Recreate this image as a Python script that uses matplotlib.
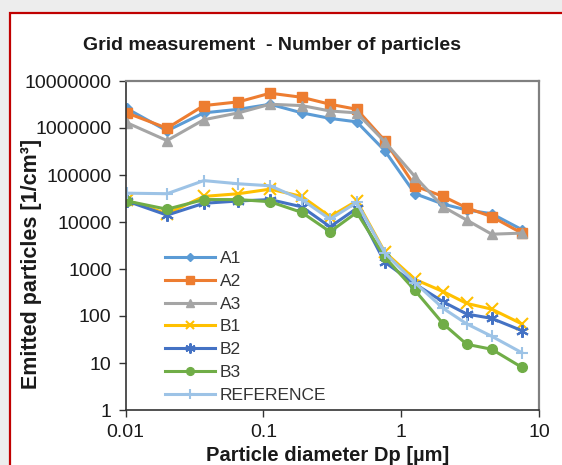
import matplotlib
matplotlib.use("Agg")
import matplotlib.pyplot as plt
from matplotlib.patches import Rectangle
import matplotlib.ticker as mticker

plt.rcParams['font.family'] = ['Liberation Sans', 'DejaVu Sans']

diameters = [0.0102, 0.02, 0.037, 0.066, 0.112, 0.19, 0.305, 0.476, 0.76, 1.26, 2.02, 2.99, 4.54, 7.5]

A1 = [2.6e6, 8.7e5, 2.1e6, 2.5e6, 3.2e6, 2.1e6, 1.6e6, 1.35e6, 3.3e5, 4.0e4, 2.4e4, 1.8e4, 1.5e4, 6.9e3]
A2 = [2.1e6, 9.9e5, 3.0e6, 3.6e6, 5.5e6, 4.5e6, 3.2e6, 2.5e6, 5.4e5, 5.8e4, 3.5e4, 2.0e4, 1.3e4, 5.8e3]
A3 = [1.3e6, 5.4e5, 1.5e6, 2.1e6, 3.2e6, 3.0e6, 2.3e6, 2.1e6, 5.1e5, 9.2e4, 2.1e4, 1.1e4, 5.5e3, 5.8e3]
B1 = [2.9e4, 1.5e4, 3.5e4, 4.0e4, 5.0e4, 3.5e4, 1.3e4, 2.8e4, 2.3e3, 600, 330, 185, 140, 68]
B2 = [2.8e4, 1.4e4, 2.5e4, 2.8e4, 3.0e4, 2.1e4, 7.9e3, 1.95e4, 1.4e3, 480, 200, 110, 89, 49]
B3 = [2.8e4, 1.87e4, 3.0e4, 3.0e4, 2.7e4, 1.6e4, 6.2e3, 1.6e4, 1.8e3, 350, 68, 25, 19.6, 8.1]
REFERENCE = [4.1e4, 4.0e4, 7.6e4, 6.5e4, 5.9e4, 3.0e4, 1.15e4, 2.6e4, 2.2e3, 510, 145, 68, 37, 16.6]

series_names = ["A1", "A2", "A3", "B1", "B2", "B3", "REFERENCE"]
series_values = [A1, A2, A3, B1, B2, B3, REFERENCE]
colors = ["#5B9BD5", "#ED7D31", "#A5A5A5", "#FFC000", "#4472C4", "#70AD47", "#9DC3E6"]
markers = ["D", "s", "^", "x", (6, 2, 0), "o", "+"]
msizes = [5, 7, 7, 8, 9, 7, 9]

y_ticks = [1, 10, 100, 1000, 10000, 100000, 1000000, 10000000]
y_tick_labels = ["1", "10", "100", "1000", "10000", "100000", "1000000", "10000000"]
x_ticks = [0.01, 0.1, 1, 10]
x_tick_labels = ["0.01", "0.1", "1", "10"]

fig = plt.figure(figsize=(5.62, 4.65), dpi=100)
fig.patch.set_facecolor("#ededed")
# white chart area with red frame
fig.patches.append(Rectangle((10/562, -0.1), 1.2, 1 - 13/465 + 0.1, transform=fig.transFigure,
                             facecolor="white", edgecolor="#C00000", linewidth=1.6, zorder=-5))

ax = fig.add_axes([125.5/562, 1 - 410/465, (539-125.5)/562, (410-81)/465])
ax.set_zorder(2)
ax.set_facecolor("white")
for name, vals, c, m, ms in zip(series_names, series_values, colors, markers, msizes):
    mew = 1.5 if m in ("x", "+", (6, 2, 0)) else 1
    ax.plot(diameters, vals, color=c, marker=m, markersize=ms, linewidth=2.2,
            markeredgewidth=mew, label=name)

ax.set_xscale("log")
ax.set_yscale("log")
ax.set_xlim(0.01, 10)
ax.set_ylim(1, 1e7)
ax.set_xticks(x_ticks)
ax.set_xticklabels(x_tick_labels)
ax.set_yticks(y_ticks)
ax.set_yticklabels(y_tick_labels)
ax.xaxis.set_minor_locator(mticker.NullLocator())
ax.yaxis.set_minor_locator(mticker.NullLocator())
ax.tick_params(axis="both", direction="out", length=5, width=1, labelsize=14, colors="#333333",
               pad=5)
ax.tick_params(axis="both", labelcolor="#1a1a1a")
for s in ["top", "right"]:
    ax.spines[s].set_color("#808080")
    ax.spines[s].set_linewidth(1.6)
for s in ["left", "bottom"]:
    ax.spines[s].set_color("#333333")
    ax.spines[s].set_linewidth(1.2)

fig.text(272/562, 1 - 45/465, "Grid measurement  - Number of particles", ha="center", va="center",
         fontsize=14, fontweight="bold", color="#1a1a1a")
fig.text(32/562, 1 - 264/465, "Emitted particles [1/cm³]", ha="center", va="center", rotation=90,
         fontsize=15.5, fontweight="bold", color="#1a1a1a")
fig.text(328/562, 1 - 455/465, "Particle diameter Dp [µm]", ha="center", va="center",
         fontsize=14.5, fontweight="bold", color="#1a1a1a")

leg = ax.legend(loc="lower left", bbox_to_anchor=(0.07, -0.01), frameon=False, fontsize=12.5,
                handlelength=2.9, handletextpad=0.25, labelspacing=0.44, borderaxespad=0.2,
                markerscale=0.8)
for t in leg.get_texts():
    t.set_color("#333333")

fig.savefig("out.png", dpi=100, facecolor=fig.get_facecolor())
